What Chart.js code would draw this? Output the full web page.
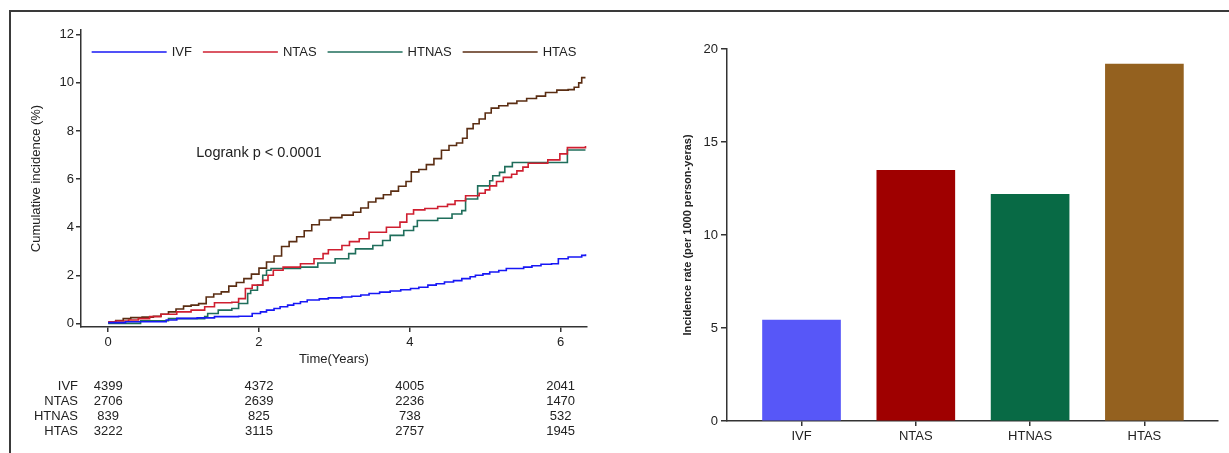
<!DOCTYPE html>
<html>
<head>
<meta charset="utf-8">
<script src="https://cdn.jsdelivr.net/npm/chart.js@4.4.1/dist/chart.umd.min.js"></script>
<style>
  html, body { margin:0; padding:0; background:#fff; }
  #wrap { position:relative; width:1229px; height:453px; overflow:hidden; }
  #frame { position:absolute; left:9px; top:10px; width:1220px; height:443px; border-top:2px solid #3a3a3a; border-left:2px solid #3a3a3a; }
  #kmChart { position:absolute; left:0; top:0; }
  #rateChart { position:absolute; left:620px; top:0; }
</style>
</head>
<body>
<div id="wrap">
  <div id="frame"></div>
  <canvas id="kmChart" width="620" height="453"></canvas>
  <canvas id="rateChart" width="609" height="453"></canvas>
</div>
<script>
// groups + tick labels
const groups = ["IVF", "NTAS", "HTNAS", "HTAS"];
const timeTicks = [0, 2, 4, 6];
const incTicks = [0, 2, 4, 6, 8, 10, 12];
const rateTicks = [0, 5, 10, 15, 20];

// cumulative incidence curves, [years, %]
const ivfCurve = [[0,0.03],[0.23,0.07],[0.77,0.14],[0.91,0.21],[1.18,0.23],[1.41,0.28],[1.73,0.3],[1.91,0.41],[2.02,0.48],[2.1,0.55],[2.2,0.62],[2.28,0.69],[2.38,0.76],[2.46,0.83],[2.55,0.9],[2.64,0.97],[2.8,1.02],[2.92,1.06],[3.1,1.1],[3.23,1.13],[3.35,1.18],[3.46,1.24],[3.6,1.3],[3.74,1.35],[3.88,1.4],[4.01,1.45],[4.12,1.5],[4.24,1.59],[4.35,1.65],[4.46,1.72],[4.58,1.78],[4.69,1.86],[4.8,1.94],[4.87,2.0],[4.97,2.06],[5.06,2.14],[5.18,2.2],[5.28,2.28],[5.51,2.34],[5.62,2.4],[5.74,2.46],[5.88,2.48],[5.97,2.69],[6.1,2.76],[6.28,2.83],[6.33,2.87]];
const ntasCurve = [[0,0.07],[0.1,0.1],[0.27,0.14],[0.4,0.2],[0.55,0.28],[0.7,0.38],[0.91,0.48],[1.1,0.55],[1.28,0.69],[1.41,0.86],[1.64,0.88],[1.73,1.03],[1.82,1.45],[1.91,1.59],[2.05,1.79],[2.12,2.0],[2.19,2.21],[2.32,2.34],[2.55,2.48],[2.73,2.69],[2.85,2.9],[2.92,3.06],[3.1,3.24],[3.2,3.4],[3.33,3.52],[3.46,3.79],[3.69,4.0],[3.87,4.21],[3.96,4.55],[4.05,4.72],[4.2,4.78],[4.37,4.86],[4.5,4.95],[4.6,5.1],[4.74,5.31],[4.92,5.41],[5.0,5.55],[5.06,5.72],[5.15,5.9],[5.24,6.07],[5.35,6.2],[5.42,6.34],[5.5,6.5],[5.57,6.66],[5.83,6.8],[5.99,7.05],[6.09,7.31],[6.33,7.38]];
const htnasCurve = [[0,0],[0.43,0.11],[0.8,0.2],[1.28,0.28],[1.32,0.41],[1.46,0.55],[1.64,0.62],[1.73,0.83],[1.85,1.24],[1.89,1.38],[1.98,1.59],[2.05,2.0],[2.1,2.21],[2.16,2.28],[2.55,2.34],[2.78,2.51],[3.01,2.69],[3.19,2.9],[3.28,3.1],[3.51,3.24],[3.64,3.45],[3.74,3.66],[3.92,3.86],[4.05,4.03],[4.1,4.28],[4.37,4.37],[4.56,4.55],[4.69,4.69],[4.74,5.17],[4.9,5.72],[5.06,5.93],[5.1,6.14],[5.19,6.28],[5.26,6.52],[5.36,6.69],[6.05,6.69],[6.09,7.21],[6.33,7.21]];
const htasCurve = [[0,0.03],[0.1,0.12],[0.2,0.2],[0.3,0.24],[0.45,0.26],[0.6,0.3],[0.7,0.38],[0.8,0.48],[0.9,0.6],[1.0,0.72],[1.1,0.76],[1.2,0.82],[1.3,1.1],[1.4,1.22],[1.5,1.31],[1.6,1.55],[1.7,1.7],[1.8,1.86],[1.9,2.05],[2.0,2.3],[2.1,2.55],[2.2,2.8],[2.3,3.2],[2.4,3.4],[2.5,3.6],[2.6,3.85],[2.7,4.1],[2.8,4.3],[2.95,4.4],[3.1,4.5],[3.25,4.62],[3.35,4.8],[3.45,5.05],[3.55,5.2],[3.65,5.35],[3.75,5.5],[3.85,5.7],[3.95,5.9],[4.02,6.3],[4.12,6.4],[4.22,6.6],[4.32,6.85],[4.42,7.2],[4.52,7.4],[4.62,7.5],[4.7,7.7],[4.76,8.1],[4.84,8.3],[4.92,8.5],[5.0,8.75],[5.08,8.95],[5.18,9.05],[5.3,9.15],[5.42,9.25],[5.55,9.35],[5.68,9.45],[5.8,9.6],[5.95,9.7],[6.1,9.72],[6.18,9.82],[6.24,10.0],[6.28,10.22],[6.33,10.22]];

// numbers at risk at 0,2,4,6 years
const ivfRisk = [4399, 4372, 4005, 2041];
const ntasRisk = [2706, 2639, 2236, 1470];
const htnasRisk = [839, 825, 738, 532];
const htasRisk = [3222, 3115, 2757, 1945];

// incidence rate per 1000 person-years
const rateValues = [5.43, 13.48, 12.19, 19.19];

const lineColors = ["#1717f5", "#cf1f30", "#1f6e5b", "#5a2d12"];
const barColors = ["#5757f8", "#9f0000", "#086a45", "#94611f"];
const FONT = "'Liberation Sans', Arial, sans-serif";
const INK = "#222";
const AXIS = "#333";

Chart.defaults.font.family = FONT;
Chart.defaults.color = INK;

const toPts = arr => arr.map(p => ({ x: p[0], y: p[1] }));
const curves = [ivfCurve, ntasCurve, htnasCurve, htasCurve];
const riskRows = [ivfRisk, ntasRisk, htnasRisk, htasRisk];

// legend row inside the plot, logrank note, risk table
const kmExtras = {
  id: "kmExtras",
  afterDraw(chart){
    const {ctx, chartArea, scales:{x, y}} = chart;
    ctx.save();
    ctx.fillStyle = INK;
    ctx.textBaseline = "middle";

    // legend
    ctx.font = "13px " + FONT;
    const lineLen = 75, gap = 5, itemGap = 11;
    const widths = groups.map(g => lineLen + gap + ctx.measureText(g).width);
    const total = widths.reduce((a, b) => a + b, 0) + itemGap * (groups.length - 1);
    let lx = (chartArea.left + chartArea.right) / 2 - total / 2;
    const ly = 52;
    chart.data.datasets.forEach((ds, i) => {
      ctx.strokeStyle = ds.borderColor;
      ctx.lineWidth = 1.6;
      ctx.beginPath();
      ctx.moveTo(lx, ly);
      ctx.lineTo(lx + lineLen, ly);
      ctx.stroke();
      ctx.textAlign = "left";
      ctx.fillText(ds.label, lx + lineLen + gap, ly);
      lx += widths[i] + itemGap;
    });

    ctx.font = "14.5px " + FONT;
    ctx.textAlign = "center";
    ctx.fillText("Logrank p < 0.0001", x.getPixelForValue(2), y.getPixelForValue(7.1));

    ctx.font = "13px " + FONT;
    riskRows.forEach((row, r) => {
      const ry = 386 + r * 15.3;
      ctx.textAlign = "right";
      ctx.fillText(groups[r], 78, ry);
      ctx.textAlign = "center";
      row.forEach((n, i) => ctx.fillText(String(n), x.getPixelForValue(timeTicks[i]), ry));
    });
    ctx.restore();
  }
};

new Chart(document.getElementById("kmChart"), {
  type: "line",
  data: {
    datasets: groups.map((g, i) => ({
      label: g,
      data: toPts(curves[i]),
      borderColor: lineColors[i],
      backgroundColor: lineColors[i],
      borderWidth: 1.6,
      pointRadius: 0,
      stepped: true,
      fill: false
    }))
  },
  options: {
    responsive: false,
    animation: false,
    layout: { padding: { top: 30, right: 33, left: 0, bottom: 0 } },
    plugins: { legend: { display: false }, tooltip: { enabled: false } },
    scales: {
      x: {
        type: "linear", min: -0.36, max: 6.35,
        afterBuildTicks: s => { s.ticks = timeTicks.map(v => ({ value: v })); },
        afterFit: s => { s.height = 126; },
        border: { color: AXIS, width: 1.5 },
        grid: { drawOnChartArea: false, tickLength: 5, color: AXIS, lineWidth: 1.5 },
        ticks: { color: INK, font: { size: 13 }, padding: 3, maxRotation: 0 },
        title: { display: true, text: "Time(Years)", color: INK, font: { size: 13 }, padding: { top: 0, bottom: 86 } }
      },
      y: {
        type: "linear", min: -0.15, max: 12.2,
        afterBuildTicks: s => { s.ticks = incTicks.map(v => ({ value: v })); },
        afterFit: s => { s.width = 81; },
        border: { color: AXIS, width: 1.5 },
        grid: { drawOnChartArea: false, tickLength: 5, color: AXIS, lineWidth: 1.5 },
        ticks: { color: INK, font: { size: 13 }, padding: 2 },
        title: { display: true, text: "Cumulative incidence (%)", color: INK, font: { size: 13 }, padding: { top: 29, bottom: 0 } }
      }
    }
  },
  plugins: [kmExtras]
});

new Chart(document.getElementById("rateChart"), {
  type: "bar",
  data: {
    datasets: [{
      label: "Incidence rate",
      data: rateValues.map((v, i) => ({ x: i, y: v })),
      backgroundColor: barColors,
      barThickness: 78
    }]
  },
  options: {
    responsive: false,
    animation: false,
    layout: { padding: { top: 49, right: 11, left: 0, bottom: 0 } },
    plugins: { legend: { display: false }, tooltip: { enabled: false } },
    scales: {
      x: {
        type: "linear", min: -0.652, max: 3.644, offset: false,
        afterBuildTicks: s => { s.ticks = groups.map((g, i) => ({ value: i })); },
        afterFit: s => { s.height = 32; },
        border: { color: AXIS, width: 1.5 },
        grid: { offset: false, drawOnChartArea: false, tickLength: 5, color: AXIS, lineWidth: 1.5 },
        ticks: { color: INK, font: { size: 13 }, padding: 3, maxRotation: 0, callback: v => groups[v] }
      },
      y: {
        min: 0, max: 20,
        afterBuildTicks: s => { s.ticks = rateTicks.map(v => ({ value: v })); },
        afterFit: s => { s.width = 107; },
        border: { color: AXIS, width: 1.5 },
        grid: { drawOnChartArea: false, tickLength: 6, color: AXIS, lineWidth: 1.5 },
        ticks: { color: INK, font: { size: 13 }, padding: 3 },
        title: { display: true, text: "Incidence rate (per 1000 person-yeras)", color: INK, font: { size: 11, weight: "bold" }, padding: { top: 61, bottom: 0 } }
      }
    }
  }
});
</script>
</body>
</html>
